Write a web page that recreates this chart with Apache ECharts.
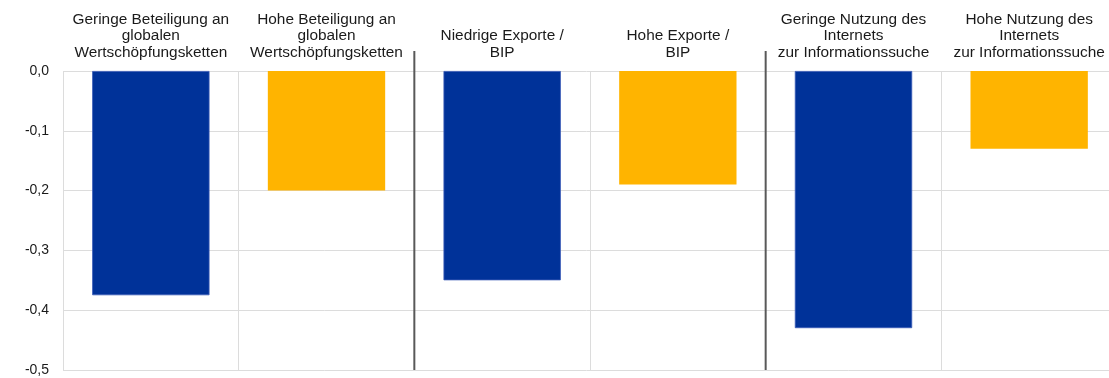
<!DOCTYPE html>
<html>
<head>
<meta charset="utf-8">
<script src="https://cdn.jsdelivr.net/npm/echarts@6/dist/echarts.min.js"></script>
<style>
  html, body { margin: 0; padding: 0; background: #fff; }
  #chart { width: 1109px; height: 378px; }
</style>
</head>
<body>
<div id="chart"></div>
<script>
// Groups: participation in global value chains, exports/GDP, internet use
const categories = [
  'Geringe Beteiligung an\nglobalen\nWertschöpfungsketten',
  'Hohe Beteiligung an\nglobalen\nWertschöpfungsketten',
  'Niedrige Exporte /\nBIP',
  'Hohe Exporte /\nBIP',
  'Geringe Nutzung des\nInternets\nzur Informationssuche',
  'Hohe Nutzung des\nInternets\nzur Informationssuche'
];
const values = [-0.375, -0.20, -0.35, -0.19, -0.43, -0.13];
const levels = ['low', 'high', 'low', 'high', 'low', 'high'];
// Category boundaries separating the three comparisons
const separators = [2, 4];
const yTicks = { min: -0.5, max: 0, interval: 0.1 };

const COLORS = { low: '#003299', high: '#FFB400' };
const FONT = '"Liberation Sans", Arial, Helvetica, sans-serif';

const chart = echarts.init(document.getElementById('chart'), null, { renderer: 'canvas' });

chart.setOption({
  animation: false,
  backgroundColor: '#ffffff',
  // the plot runs slightly past the right edge of the canvas
  grid: { left: 63, width: 1054, top: 71, height: 299, outerBoundsMode: 'none', containLabel: false },
  xAxis: [
    {
      type: 'category',
      position: 'top',
      data: categories,
      axisLine: { show: false },
      axisTick: { show: false },
      axisLabel: {
        interval: 0,
        margin: 10,
        color: '#1a1a1a',
        fontFamily: FONT,
        fontSize: 15.4,
        lineHeight: 16.6,
        align: 'center'
      },
      splitLine: { show: true, lineStyle: { color: '#dcdcdc', width: 1 } }
    },
    {
      type: 'value',
      min: 0,
      max: categories.length,
      show: false
    }
  ],
  yAxis: {
    type: 'value',
    min: yTicks.min,
    max: yTicks.max,
    interval: yTicks.interval,
    axisLine: { show: false },
    axisTick: { show: false },
    axisLabel: {
      margin: 14,
      color: '#1a1a1a',
      fontFamily: FONT,
      fontSize: 14,
      formatter: v => v.toFixed(1).replace('.', ',')
    },
    splitLine: { show: true, lineStyle: { color: '#dcdcdc', width: 1 } }
  },
  series: [
    {
      type: 'bar',
      xAxisIndex: 0,
      barWidth: '66.8%',
      data: values.map((v, i) => ({
        value: v,
        itemStyle: {
          color: COLORS[levels[i]],
          borderColor: levels[i] === 'low' ? '#3a5cb8' : COLORS[levels[i]],
          borderWidth: levels[i] === 'low' ? 0.8 : 0
        }
      }))
    },
    {
      // dark dividers between the comparison groups, reaching above the plot
      type: 'custom',
      xAxisIndex: 1,
      clip: false,
      silent: true,
      data: separators,
      renderItem: (params, api) => {
        const x = api.value(0);
        const top = api.coord([x, yTicks.max]);
        const bottom = api.coord([x, yTicks.min]);
        return {
          type: 'line',
          shape: { x1: top[0], y1: top[1] - 20, x2: bottom[0], y2: bottom[1] },
          style: { stroke: '#595959', lineWidth: 2 }
        };
      },
      encode: { x: 0 }
    }
  ]
});
</script>
</body>
</html>
